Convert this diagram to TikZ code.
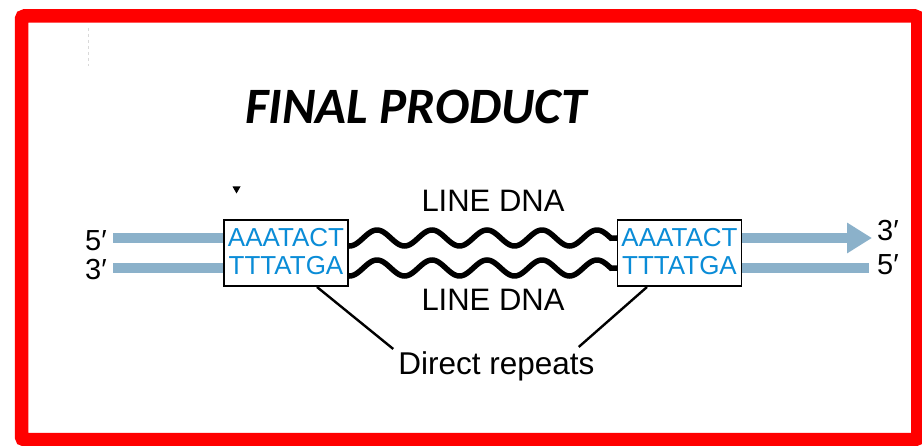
\documentclass[tikz,border=0pt]{standalone}
\usepackage{fontspec}
\setmainfont{Liberation Sans}
\newfontfamily\titlefont{Carlito}
\usetikzlibrary{arrows.meta,calc}
\definecolor{strandblue}{RGB}{139,177,202}
\definecolor{seqblue}{RGB}{10,140,215}
\definecolor{framered}{RGB}{255,0,0}
\tikzset{
  strand/.style={draw=strandblue, line width=10pt},
  seqbox/.style={draw=black, line width=1.3pt, fill=white, minimum width=124pt, minimum height=66pt, inner sep=0pt},
  seqtext/.style={text=seqblue, anchor=base, inner sep=0pt, font=\fontsize{26pt}{28pt}\selectfont},
  endlabel/.style={anchor=base west, inner sep=0pt, font=\fontsize{29pt}{30pt}\selectfont},
  biglabel/.style={anchor=base, inner sep=0pt, font=\fontsize{31pt}{32pt}\selectfont},
  wave/.style={draw=black, line width=5.5pt},
  pointer/.style={draw=black, line width=2.4pt}
}
\begin{document}
\begin{tikzpicture}[x=1pt,y=-1pt]
\useasboundingbox (0,0) rectangle (922,446);
% frame
\draw[framered, line width=13.5pt, rounded corners=3pt] (21.5,16) rectangle (917.75,439.75);
% faint mark
\draw[gray!30, dashed, line width=0.6pt] (88,28) -- (88,66);
% title
\node[anchor=base west, inner sep=0pt, font=\titlefont\bfseries\itshape\fontsize{51pt}{56pt}\selectfont] (title) at (245,124) {FINAL PRODUCT};
% small triangle
\fill (232.5,186.5) -- (240.5,186.5) -- (236.5,193.5) -- cycle;
% boxes
\node[seqbox] (lbox) at (286,253) {};
\node[seqbox] (rbox) at (679.5,253) {};
\node[seqtext] (l1) at (286,247) {AAATACT};
\node[seqtext] (l2) at (286,275) {TTTATGA};
\node[seqtext] (r1) at (679.5,247) {AAATACT};
\node[seqtext] (r2) at (679.5,275) {TTTATGA};
% end labels
\node[endlabel] (l5p) at (85,251) {5′};
\node[endlabel] (l3p) at (85,280) {3′};
\node[endlabel] (r3p) at (877,241) {3′};
\node[endlabel] (r5p) at (877,275) {5′};
% strands
\coordinate (la) at (113,238);
\coordinate (lb) at (113,268);
\coordinate (ra) at (872,238);
\coordinate (rb) at (869,268);
\draw[strand] (la) -- (la -| lbox.west);
\draw[strand] (lb) -- (lb -| lbox.west);
\draw[strand, -{Triangle[width=29pt,length=25pt]}] (ra -| rbox.east) -- (ra);
\draw[strand] (rb -| rbox.east) -- (rb);
% waves (LINE DNA)
\draw[wave] plot[domain=348:611, samples=160, smooth] (\x, {238 - 8*sin((\x-363.25)*6.54545)}) -- (rbox.west |- 0,238);
\draw[wave] plot[domain=348:611, samples=160, smooth] (\x, {268 - 8*sin((\x-363.25)*6.54545)}) -- (rbox.west |- 0,268);
% labels
\node[biglabel] (linetop) at (493,212) {LINE DNA};
\node[biglabel] (linebot) at (493,311) {LINE DNA};
\node[anchor=base, inner sep=0pt, font=\fontsize{31.5pt}{34pt}\selectfont] (dr) at (496.5,375) {Direct repeats};
% pointers
\coordinate (lp) at (317,287);
\coordinate (rp) at (647,287);
\draw[pointer] (lp) -- ($(dr.north west)+(-5,-3)$);
\draw[pointer] (rp) -- ($(dr.north east)+(-16,-5)$);
\end{tikzpicture}
\end{document}
